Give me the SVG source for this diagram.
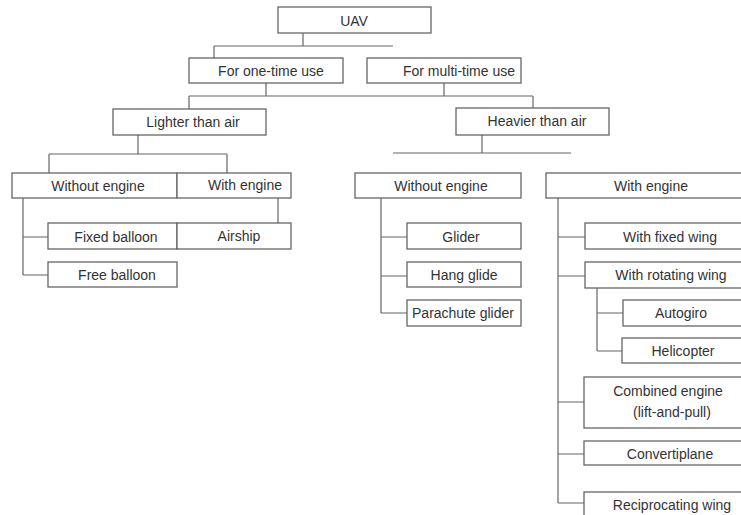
<svg xmlns="http://www.w3.org/2000/svg" width="741" height="515" viewBox="0 0 741 515">
<style>
.b{fill:#fff;stroke:#666;stroke-width:1.3}
.t{font-family:"Liberation Sans",Arial,sans-serif;font-size:14px;fill:#333;text-anchor:middle}
.c{fill:none;stroke:#666;stroke-width:1.2}
</style>
<rect width="741" height="515" fill="#fff"/>
<g id="connectors" class="c">
<path d="M303 33V46M214 46H393M214 46V58"/>
<path d="M266 83V96M444 83V96M189 96H533M189 96V109M533 96V108"/>
<path d="M138 135V154M49 154H227M49 154V173M227 154V173"/>
<path d="M482 135V153M393 153H571"/>
<path d="M23 198V275M23 237H48M23 275H48M278 198V223"/>
<path d="M381 198V313M381 237H407M381 276H407M381 313H407"/>
<path d="M558 198V503M558 237H585M558 276H585M597 288V351M597 313H623M597 351H622M558 402H584M558 454H584M558 503H584"/>
</g>
<g id="uav"><rect class="b" x="278" y="7" width="153" height="26"/><text class="t" x="354" y="26">UAV</text></g>
<g id="one-time"><rect class="b" x="189" y="58" width="154" height="25"/><text class="t" x="271" y="76">For one-time use</text></g>
<g id="multi-time"><rect class="b" x="367" y="58" width="154" height="25"/><text class="t" x="459" y="76">For multi-time use</text></g>
<g id="lighter"><rect class="b" x="113" y="109" width="153" height="26"/><text class="t" x="193" y="127">Lighter than air</text></g>
<g id="heavier"><rect class="b" x="456" y="108" width="153" height="27"/><text class="t" x="537" y="126">Heavier than air</text></g>
<g id="l-without"><rect class="b" x="12" y="173" width="165" height="25"/><text class="t" x="98" y="191">Without engine</text></g>
<g id="l-with"><rect class="b" x="177" y="173" width="114" height="25"/><text class="t" x="245" y="190">With engine</text></g>
<g id="fixed-balloon"><rect class="b" x="48" y="223" width="129" height="26"/><text class="t" x="116" y="242">Fixed balloon</text></g>
<g id="airship"><rect class="b" x="177" y="223" width="114" height="26"/><text class="t" x="239" y="241">Airship</text></g>
<g id="free-balloon"><rect class="b" x="48" y="262" width="129" height="25"/><text class="t" x="117" y="280">Free balloon</text></g>
<g id="h-without"><rect class="b" x="355" y="173" width="166" height="25"/><text class="t" x="441" y="191">Without engine</text></g>
<g id="glider"><rect class="b" x="407" y="223" width="114" height="26"/><text class="t" x="461" y="242">Glider</text></g>
<g id="hang-glide"><rect class="b" x="407" y="262" width="114" height="25"/><text class="t" x="464" y="280">Hang glide</text></g>
<g id="parachute"><rect class="b" x="407" y="300" width="114" height="26"/><text class="t" x="463" y="318">Parachute glider</text></g>
<g id="h-with"><rect class="b" x="546" y="173" width="200" height="25"/><text class="t" x="651" y="191">With engine</text></g>
<g id="fixed-wing"><rect class="b" x="585" y="223" width="161" height="26"/><text class="t" x="670" y="242">With fixed wing</text></g>
<g id="rotating-wing"><rect class="b" x="585" y="262" width="161" height="26"/><text class="t" x="671" y="280">With rotating wing</text></g>
<g id="autogiro"><rect class="b" x="623" y="300" width="123" height="26"/><text class="t" x="681" y="318">Autogiro</text></g>
<g id="helicopter"><rect class="b" x="622" y="338" width="124" height="25"/><text class="t" x="683" y="356">Helicopter</text></g>
<g id="combined"><rect class="b" x="584" y="377" width="162" height="51"/><text class="t" x="668" y="396">Combined engine</text><text class="t" x="672" y="417">(lift-and-pull)</text></g>
<g id="convertiplane"><rect class="b" x="584" y="441" width="162" height="24"/><text class="t" x="670" y="459">Convertiplane</text></g>
<g id="reciprocating"><rect class="b" x="584" y="492" width="162" height="30"/><text class="t" x="672" y="510">Reciprocating wing</text></g>
</svg>
